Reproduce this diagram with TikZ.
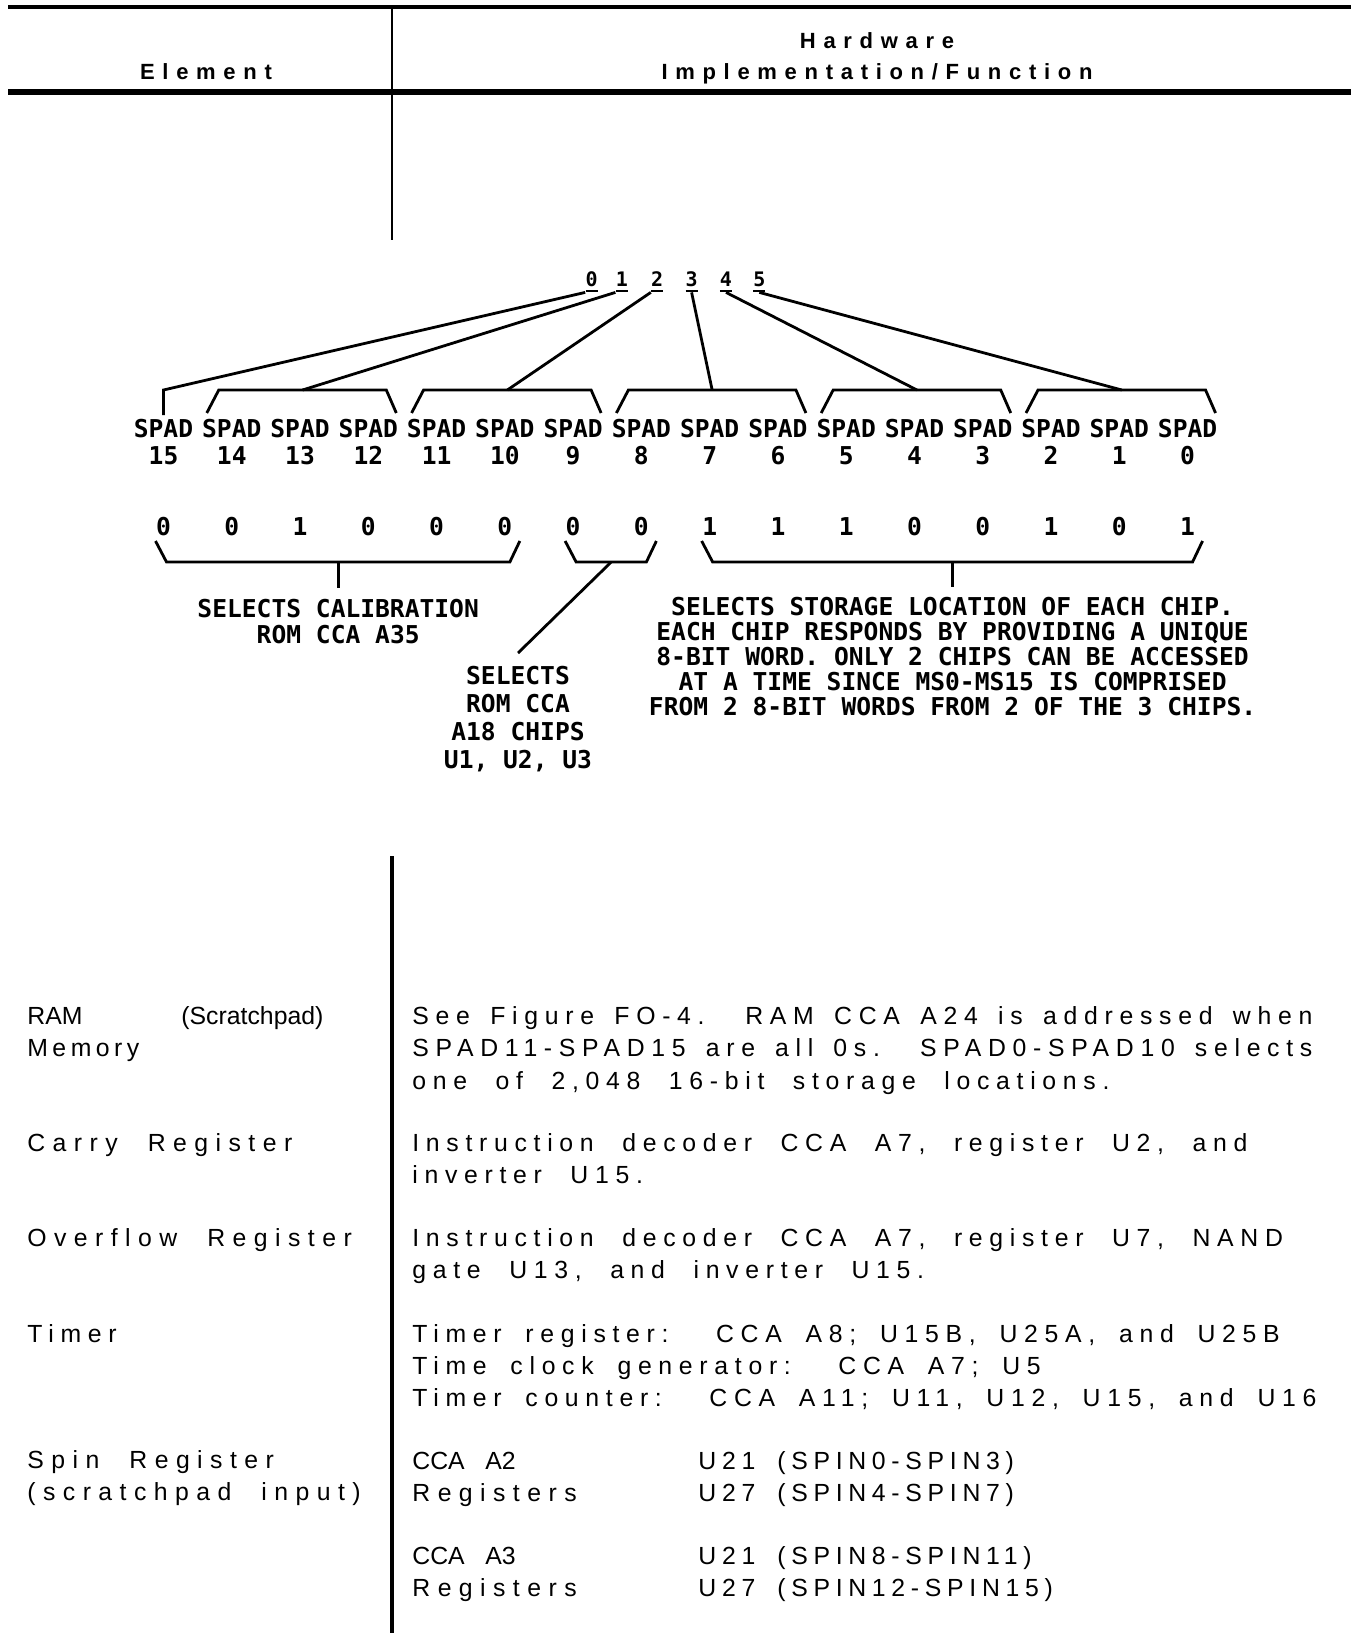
\documentclass[tikz,border=0pt]{standalone}
\usepackage{fontspec}
\setmainfont{Liberation Sans}
\newfontfamily\headfont{Liberation Sans}[LetterSpace=35]
\newfontfamily\bodyfont{Liberation Sans}[LetterSpace=27,WordSpace=2.1]
\newfontfamily\elemfont{Liberation Sans}[LetterSpace=30,WordSpace=2.1]
\newfontfamily\tmrfont{Liberation Sans}[LetterSpace=27.01,WordSpace=1.75]
\newfontfamily\spinfont{Liberation Sans}[LetterSpace=23,WordSpace=1.75]
\newfontfamily\plotfont{DejaVu Sans Mono}
\usetikzlibrary{positioning}

\newcommand\ulnum[1]{\setbox0\hbox{#1}\rlap{\rule[-3pt]{\wd0}{1.1pt}}\box0}

\begin{document}
\begin{tikzpicture}[x=0.5pt,y=-0.5pt,
 hd/.style={font=\headfont\bfseries\fontsize{11}{15.5}\selectfont,anchor=base,align=center,inner sep=0pt},
 lbl/.style={font=\bodyfont\fontsize{12.4}{16.15}\selectfont,anchor=base west,align=left,inner sep=0pt},
 elbl/.style={lbl,font=\elemfont\fontsize{12.4}{16.15}\selectfont},
 tlbl/.style={lbl,font=\tmrfont\fontsize{12.4}{16.15}\selectfont},
 slbl/.style={lbl,font=\spinfont\fontsize{12.4}{16.15}\selectfont},
 lr/.style={font=\plotfont\bfseries\fontsize{12.3}{12.5}\selectfont,align=center,inner sep=0pt},
 spad/.style={lr,font=\plotfont\bfseries\fontsize{12.3}{13.5}\selectfont,anchor=base},
 dg/.style={font=\plotfont\bfseries\fontsize{10}{12}\selectfont,anchor=base,inner sep=0pt},
 wire/.style={line width=1.4pt}]
\useasboundingbox (0,0) rectangle (1351,1633);
\draw[line width=2pt] (8,7) -- (1351,7);
\draw[line width=3pt] (8,92) -- (1351,92);
\draw[line width=1pt] (392,7) -- (392,240);
\draw[line width=1.6pt] (392,856) -- (392,1633);
\node[hd] (elem) at (206,79) {Element};
\node[hd] (hwif) at (877,79) {Hardware\\Implementation/Function};
\foreach \n/\x in {0/591.6,1/621.8,2/657.2,3/691.6,4/726,5/759.3}
  \node[dg] (d\n) at (\x,286) {\ulnum{\n}};
\foreach \k in {0,...,15}{
  \pgfmathsetmacro\cx{163.5+68.27*(15-\k)}
  \node[spad] (s\k) at (\cx,464) {SPAD\\\k};
}
\coordinate (t15) at (163.5,390);
\coordinate (f15) at (163.5,415);
\foreach \a/\b in {14/12,11/9,8/6,5/3,2/0}{
  \pgfmathsetmacro\xa{163.5+68.27*(15-\a)}
  \pgfmathsetmacro\xb{163.5+68.27*(15-\b)}
  \draw[wire] ({\xa-25},413) -- ({\xa-13},390) -- coordinate[midway] (t\a) ({\xb+18},390) -- ({\xb+28},413);
}
\draw[wire] (d0.south west) -- (t15) -- (f15);
\draw[wire] (d1.south west) -- (t14);
\draw[wire] (d2.south west) -- (t11);
\draw[wire] (d3.south) -- (t8);
\draw[wire] (d4.south) -- (t5);
\draw[wire] (d5.south) -- (t2);
\foreach \k/\v in {15/0,14/0,13/1,12/0,11/0,10/0,9/0,8/0,7/1,6/1,5/1,4/0,3/0,2/1,1/0,0/1}{
  \pgfmathsetmacro\cx{163.5+68.27*(15-\k)}
  \node[lr,anchor=base] (b\k) at (\cx,535) {\v};
}
\foreach \a/\b/\u in {15/10/u1,9/8/u2,7/0/u3}{
  \pgfmathsetmacro\xa{163.5+68.27*(15-\a)}
  \pgfmathsetmacro\xb{163.5+68.27*(15-\b)}
  \draw[wire] ({\xa-8},541) -- ({\xa+3},562) -- coordinate[midway] (\u) ({\xb+5},562) -- ({\xb+15},541);
}
\node[lr,font=\plotfont\bfseries\fontsize{12.3}{13}\selectfont,anchor=north,below=18.5pt of u1] (cal) {SELECTS CALIBRATION\\ROM CCA A35};
\node[lr,font=\plotfont\bfseries\fontsize{12.3}{14}\selectfont,anchor=north] (chp) at (518,666) {SELECTS\\ROM CCA\\A18 CHIPS\\U1, U2, U3};
\node[lr,anchor=north,below=17.5pt of u3] (sto) {SELECTS STORAGE LOCATION OF EACH CHIP.\\EACH CHIP RESPONDS BY PROVIDING A UNIQUE\\8-BIT WORD. ONLY 2 CHIPS CAN BE ACCESSED\\AT A TIME SINCE MS0-MS15 IS COMPRISED\\FROM 2 8-BIT WORDS FROM 2 OF THE 3 CHIPS.};
\draw[wire] (u1) -- ([yshift=5.5pt]cal.north);
\draw[wire] (u2) -- ([yshift=6.5pt]chp.north);
\draw[wire] (u3) -- ([yshift=5pt]sto.north);
\node[lbl] (ram) at (27,1056.8) {\makebox[148pt][l]{\normalfont RAM\hfill(Scratchpad)}\\\addfontfeature{LetterSpace=18}Memory};
\node[elbl] (cry) at (27,1151.5) {Carry Register};
\node[elbl] (ovf) at (27,1246.3) {Overflow Register};
\node[lbl] (tmr) at (27,1342) {Timer};
\node[elbl] (spn) at (27,1500.5) {Spin Register\\(scratchpad input)};
\node[lbl] (ramf) at (412,1089.1) {\makebox[450pt][s]{See Figure FO-4.\ \ RAM CCA A24 is addressed when}\\\makebox[450pt][s]{SPAD11-SPAD15 are all 0s.\ \ SPAD0-SPAD10 selects}\\one of 2,048 16-bit storage locations.};
\node[lbl] (cryf) at (412,1183.8) {Instruction decoder CCA A7, register U2, and\\inverter U15.};
\node[lbl] (ovff) at (412,1278.6) {Instruction decoder CCA A7, register U7, NAND\\gate U13, and inverter U15.};
\node[tlbl] (tmrf) at (412,1406.6) {Timer register:\ \ CCA A8; U15B, U25A, and U25B\\Time clock generator:\ \ CCA A7; U5\\Timer counter:\ \ CCA A11; U11, U12, U15, and U16};
\node[elbl] (spa2) at (412,1501.5) {{\normalfont CCA\ \ \ A2}\\Registers};
\node[slbl] (spu1) at (698,1501.5) {U21 (SPIN0-SPIN3)\\U27 (SPIN4-SPIN7)};
\node[elbl] (spa3) at (412,1596.3) {{\normalfont CCA\ \ \ A3}\\Registers};
\node[slbl] (spu2) at (698,1596.3) {U21 (SPIN8-SPIN11)\\U27 (SPIN12-SPIN15)};
\end{tikzpicture}
\end{document}
